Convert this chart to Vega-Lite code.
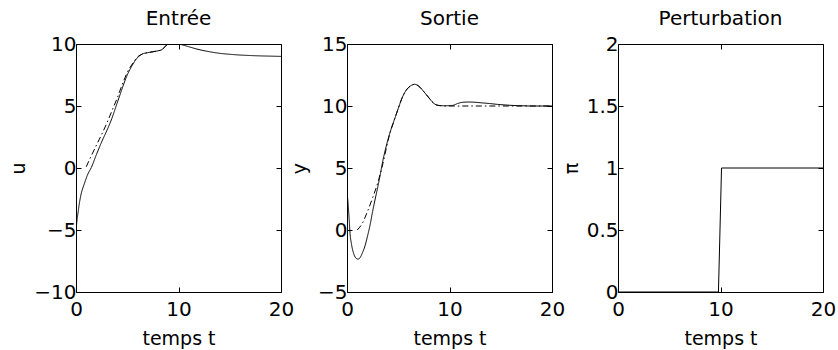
{
  "$schema": "https://vega.github.io/schema/vega-lite/v6.json",
  "background": "white",
  "padding": {"left": 8, "top": 8, "right": 0, "bottom": 0},
  "bounds": "flush",
  "spacing": 66,
  "config": {
    "font": "DejaVu Sans",
    "view": {"stroke": "black", "strokeWidth": 1},
    "axis": {
      "domain": false, "grid": false, "tickColor": "black", "tickSize": -5, "tickWidth": 1,
      "labelFlush": false, "labelOverlap": false,
      "labelFont": "DejaVu Sans", "labelFontSize": 20, "labelColor": "black", "labelPadding": 5,
      "titleFont": "DejaVu Sans", "titleFontSize": 19, "titleFontWeight": "normal", "titleColor": "black"
    },
    "axisX": {"labelPadding": 12},
    "title": {"font": "DejaVu Sans", "fontSize": 20, "fontWeight": "normal", "color": "black", "baseline": "alphabetic", "offset": 5, "anchor": "middle", "frame": "group"}
  },
  "datasets": {
    "entree": [
      {"t": 0, "u": -5.2, "s": "sim"}, {"t": 0.1, "u": -4.2, "s": "sim"}, {"t": 0.2, "u": -3.6, "s": "sim"},
      {"t": 0.3, "u": -3.0, "s": "sim"}, {"t": 0.5, "u": -2.1, "s": "sim"}, {"t": 0.8, "u": -1.3, "s": "sim"},
      {"t": 1.1, "u": -0.6, "s": "sim"}, {"t": 1.5, "u": 0.05, "s": "sim"}, {"t": 2.0, "u": 1.1, "s": "sim"},
      {"t": 2.5, "u": 2.1, "s": "sim"}, {"t": 3.0, "u": 3.0, "s": "sim"}, {"t": 3.5, "u": 4.0, "s": "sim"},
      {"t": 4.0, "u": 5.2, "s": "sim"}, {"t": 4.5, "u": 6.4, "s": "sim"}, {"t": 5.0, "u": 7.5, "s": "sim"},
      {"t": 5.5, "u": 8.3, "s": "sim"}, {"t": 6.0, "u": 8.9, "s": "sim"}, {"t": 6.5, "u": 9.2, "s": "sim"},
      {"t": 7.0, "u": 9.3, "s": "sim"}, {"t": 7.5, "u": 9.38, "s": "sim"}, {"t": 8.0, "u": 9.45, "s": "sim"},
      {"t": 8.4, "u": 9.55, "s": "sim"}, {"t": 8.7, "u": 9.8, "s": "sim"}, {"t": 9.0, "u": 10, "s": "sim"},
      {"t": 10.0, "u": 10, "s": "sim"}, {"t": 10.5, "u": 9.9, "s": "sim"}, {"t": 11.0, "u": 9.78, "s": "sim"},
      {"t": 12.0, "u": 9.55, "s": "sim"}, {"t": 13.0, "u": 9.38, "s": "sim"}, {"t": 14.0, "u": 9.25, "s": "sim"},
      {"t": 15.0, "u": 9.17, "s": "sim"}, {"t": 16.0, "u": 9.11, "s": "sim"}, {"t": 17.0, "u": 9.07, "s": "sim"},
      {"t": 18.0, "u": 9.04, "s": "sim"}, {"t": 19.0, "u": 9.02, "s": "sim"}, {"t": 20.0, "u": 9.0, "s": "sim"},
      {"t": 1.0, "u": 0.1, "s": "ref"}, {"t": 1.5, "u": 1.0, "s": "ref"}, {"t": 2.0, "u": 1.85, "s": "ref"},
      {"t": 2.5, "u": 2.7, "s": "ref"}, {"t": 3.0, "u": 3.6, "s": "ref"}, {"t": 3.5, "u": 4.6, "s": "ref"},
      {"t": 4.0, "u": 5.6, "s": "ref"}, {"t": 4.5, "u": 6.7, "s": "ref"}, {"t": 5.0, "u": 7.7, "s": "ref"},
      {"t": 5.5, "u": 8.4, "s": "ref"}, {"t": 6.0, "u": 8.95, "s": "ref"}, {"t": 6.5, "u": 9.2, "s": "ref"},
      {"t": 7.0, "u": 9.3, "s": "ref"}, {"t": 8.0, "u": 9.45, "s": "ref"}, {"t": 8.4, "u": 9.55, "s": "ref"},
      {"t": 8.7, "u": 9.8, "s": "ref"}, {"t": 9.0, "u": 10, "s": "ref"}, {"t": 20.0, "u": 10, "s": "ref"}
    ],
    "sortie": [
      {"t": 0, "y": 3.0, "s": "sim"}, {"t": 0.1, "y": 2.2, "s": "sim"}, {"t": 0.2, "y": 1.0, "s": "sim"},
      {"t": 0.3, "y": -0.3, "s": "sim"}, {"t": 0.45, "y": -1.2, "s": "sim"}, {"t": 0.65, "y": -1.9, "s": "sim"},
      {"t": 0.85, "y": -2.25, "s": "sim"}, {"t": 1.1, "y": -2.35, "s": "sim"}, {"t": 1.3, "y": -2.2, "s": "sim"},
      {"t": 1.5, "y": -1.85, "s": "sim"}, {"t": 1.75, "y": -1.3, "s": "sim"}, {"t": 2.0, "y": -0.5, "s": "sim"},
      {"t": 2.25, "y": 0.4, "s": "sim"}, {"t": 2.5, "y": 1.5, "s": "sim"}, {"t": 2.75, "y": 2.5, "s": "sim"},
      {"t": 3.0, "y": 3.45, "s": "sim"}, {"t": 3.25, "y": 4.5, "s": "sim"}, {"t": 3.5, "y": 5.6, "s": "sim"},
      {"t": 3.75, "y": 6.5, "s": "sim"}, {"t": 4.0, "y": 7.3, "s": "sim"}, {"t": 4.25, "y": 8.0, "s": "sim"},
      {"t": 4.5, "y": 8.6, "s": "sim"}, {"t": 4.75, "y": 9.2, "s": "sim"}, {"t": 5.0, "y": 9.8, "s": "sim"},
      {"t": 5.4, "y": 10.7, "s": "sim"}, {"t": 5.8, "y": 11.3, "s": "sim"}, {"t": 6.2, "y": 11.62, "s": "sim"},
      {"t": 6.6, "y": 11.75, "s": "sim"}, {"t": 7.0, "y": 11.6, "s": "sim"}, {"t": 7.3, "y": 11.35, "s": "sim"},
      {"t": 7.6, "y": 11.05, "s": "sim"}, {"t": 8.0, "y": 10.65, "s": "sim"}, {"t": 8.3, "y": 10.35, "s": "sim"},
      {"t": 8.6, "y": 10.14, "s": "sim"}, {"t": 8.9, "y": 10.05, "s": "sim"}, {"t": 9.5, "y": 10.02, "s": "sim"},
      {"t": 10.3, "y": 10.05, "s": "sim"}, {"t": 10.8, "y": 10.2, "s": "sim"}, {"t": 11.3, "y": 10.3, "s": "sim"},
      {"t": 11.9, "y": 10.32, "s": "sim"}, {"t": 12.5, "y": 10.3, "s": "sim"}, {"t": 13.2, "y": 10.25, "s": "sim"},
      {"t": 13.9, "y": 10.2, "s": "sim"}, {"t": 14.7, "y": 10.13, "s": "sim"}, {"t": 15.5, "y": 10.08, "s": "sim"},
      {"t": 16.3, "y": 10.04, "s": "sim"}, {"t": 17.1, "y": 10.02, "s": "sim"}, {"t": 18.0, "y": 10.0, "s": "sim"},
      {"t": 20.0, "y": 10.0, "s": "sim"},
      {"t": 1.0, "y": 0.0, "s": "ref"}, {"t": 1.5, "y": 0.55, "s": "ref"}, {"t": 2.0, "y": 1.5, "s": "ref"},
      {"t": 2.5, "y": 2.6, "s": "ref"}, {"t": 3.0, "y": 3.8, "s": "ref"}, {"t": 3.5, "y": 5.35, "s": "ref"},
      {"t": 4.0, "y": 7.2, "s": "ref"}, {"t": 4.25, "y": 8.0, "s": "ref"}, {"t": 4.5, "y": 8.6, "s": "ref"},
      {"t": 4.75, "y": 9.2, "s": "ref"}, {"t": 5.0, "y": 9.8, "s": "ref"}, {"t": 5.4, "y": 10.7, "s": "ref"},
      {"t": 5.8, "y": 11.3, "s": "ref"}, {"t": 6.2, "y": 11.62, "s": "ref"}, {"t": 6.6, "y": 11.75, "s": "ref"},
      {"t": 7.0, "y": 11.6, "s": "ref"}, {"t": 7.3, "y": 11.35, "s": "ref"}, {"t": 7.6, "y": 11.05, "s": "ref"},
      {"t": 8.0, "y": 10.65, "s": "ref"}, {"t": 8.3, "y": 10.35, "s": "ref"}, {"t": 8.6, "y": 10.14, "s": "ref"},
      {"t": 8.9, "y": 10.05, "s": "ref"}, {"t": 9.5, "y": 10.0, "s": "ref"}, {"t": 20.0, "y": 10.0, "s": "ref"}
    ],
    "pert": [
      {"t": 0, "p": 0}, {"t": 9.8, "p": 0}, {"t": 10.1, "p": 1}, {"t": 20, "p": 1}
    ]
  },
  "hconcat": [
    {
      "width": 205, "height": 248,
      "title": "Entrée",
      "data": {"name": "entree"},
      "layer": [
        {
          "mark": {"type": "line", "color": "black", "strokeWidth": 1, "interpolate": "monotone", "clip": true},
          "encoding": {
            "x": {"field": "t", "type": "quantitative", "scale": {"domain": [0, 20], "nice": false, "zero": false},
                  "axis": {"values": [0, 10, 20], "title": "temps t", "titleBaseline": "alphabetic", "titleY": 52}},
            "y": {"field": "u", "type": "quantitative", "scale": {"domain": [-10, 10], "nice": false, "zero": false},
                  "axis": {"values": [-10, -5, 0, 5, 10], "title": "u", "titleX": -58, "titleY": 124, "titleBaseline": "middle", "titleAlign": "center"}},
            "strokeDash": {"field": "s", "type": "nominal", "scale": {"domain": ["sim", "ref"], "range": [[1, 0], [6, 3, 1.5, 3]]}, "legend": null}
          }
        },
        {
          "mark": {"type": "point", "opacity": 0},
          "encoding": {
            "x": {"field": "t", "type": "quantitative", "scale": {"domain": [0, 20], "nice": false, "zero": false}, "axis": {"orient": "top", "values": [0, 10, 20], "labels": false, "title": null}},
            "y": {"field": "u", "type": "quantitative", "scale": {"domain": [-10, 10], "nice": false, "zero": false}, "axis": {"orient": "right", "values": [-10, -5, 0, 5, 10], "labels": false, "title": null}}
          }
        }
      ],
      "resolve": {"axis": {"x": "independent", "y": "independent"}}
    },
    {
      "width": 205, "height": 248,
      "title": "Sortie",
      "data": {"name": "sortie"},
      "layer": [
        {
          "mark": {"type": "line", "color": "black", "strokeWidth": 1, "interpolate": "monotone", "clip": true},
          "encoding": {
            "x": {"field": "t", "type": "quantitative", "scale": {"domain": [0, 20], "nice": false, "zero": false},
                  "axis": {"values": [0, 10, 20], "title": "temps t", "titleBaseline": "alphabetic", "titleY": 52}},
            "y": {"field": "y", "type": "quantitative", "scale": {"domain": [-5, 15], "nice": false, "zero": false},
                  "axis": {"values": [-5, 0, 5, 10, 15], "title": "y", "titleX": -48, "titleY": 124, "titleBaseline": "middle", "titleAlign": "center"}},
            "strokeDash": {"field": "s", "type": "nominal", "scale": {"domain": ["sim", "ref"], "range": [[1, 0], [6, 3, 1.5, 3]]}, "legend": null}
          }
        },
        {
          "mark": {"type": "point", "opacity": 0},
          "encoding": {
            "x": {"field": "t", "type": "quantitative", "scale": {"domain": [0, 20], "nice": false, "zero": false}, "axis": {"orient": "top", "values": [0, 10, 20], "labels": false, "title": null}},
            "y": {"field": "y", "type": "quantitative", "scale": {"domain": [-5, 15], "nice": false, "zero": false}, "axis": {"orient": "right", "values": [-5, 0, 5, 10, 15], "labels": false, "title": null}}
          }
        }
      ],
      "resolve": {"axis": {"x": "independent", "y": "independent"}}
    },
    {
      "width": 205, "height": 248,
      "title": "Perturbation",
      "data": {"name": "pert"},
      "layer": [
        {
          "mark": {"type": "line", "color": "black", "strokeWidth": 1, "clip": true},
          "encoding": {
            "x": {"field": "t", "type": "quantitative", "scale": {"domain": [0, 20], "nice": false, "zero": false},
                  "axis": {"values": [0, 10, 20], "title": "temps t", "titleBaseline": "alphabetic", "titleY": 52}},
            "y": {"field": "p", "type": "quantitative", "scale": {"domain": [0, 2], "nice": false, "zero": false},
                  "axis": {"values": [0, 0.5, 1, 1.5, 2], "format": "~g", "title": "π", "titleX": -47, "titleY": 124, "titleBaseline": "middle", "titleAlign": "center"}}
          }
        },
        {
          "mark": {"type": "point", "opacity": 0},
          "encoding": {
            "x": {"field": "t", "type": "quantitative", "scale": {"domain": [0, 20], "nice": false, "zero": false}, "axis": {"orient": "top", "values": [0, 10, 20], "labels": false, "title": null}},
            "y": {"field": "p", "type": "quantitative", "scale": {"domain": [0, 2], "nice": false, "zero": false}, "axis": {"orient": "right", "values": [0, 0.5, 1, 1.5, 2], "labels": false, "title": null}}
          }
        }
      ],
      "resolve": {"axis": {"x": "independent", "y": "independent"}}
    }
  ]
}
